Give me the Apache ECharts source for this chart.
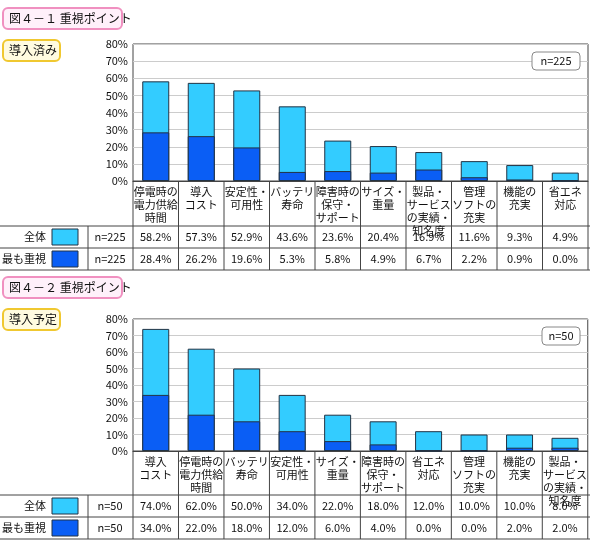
<![CDATA[<!DOCTYPE html><html><head><meta charset="utf-8"><script src="https://cdn.jsdelivr.net/npm/echarts@6/dist/echarts.min.js"></script>
<style>html,body{margin:0;padding:0;background:#fff}#c{width:590px;height:547px}</style></head><body><div id="c"></div><script>
const cats1=["停電時の\n電力供給\n時間","導入\nコスト","安定性・\n可用性","バッテリ\n寿命","障害時の\n保守・\nサポート","サイズ・\n重量","製品・\nサービス\nの実績・\n知名度","管理\nソフトの\n充実","機能の\n充実","省エネ\n対応"];
const all1=[58.2,57.3,52.9,43.6,23.6,20.4,16.9,11.6,9.3,4.9];
const top1=[28.4,26.2,19.6,5.3,5.8,4.9,6.7,2.2,0.9,0.0];
const cats2=["導入\nコスト","停電時の\n電力供給\n時間","バッテリ\n寿命","安定性・\n可用性","サイズ・\n重量","障害時の\n保守・\nサポート","省エネ\n対応","管理\nソフトの\n充実","機能の\n充実","製品・\nサービス\nの実績・\n知名度"];
const all2=[74.0,62.0,50.0,34.0,22.0,18.0,12.0,10.0,10.0,8.0];
const top2=[34.0,22.0,18.0,12.0,6.0,4.0,0.0,0.0,2.0,2.0];
const yTicks=[0,10,20,30,40,50,60,70,80];
const n1="n=225", n2="n=50";
const F='"Noto Sans CJK JP",sans-serif';
const LC='#33ccff', DC='#0a5ef5';
const chart=echarts.init(document.getElementById('c'));
const L=133,R=588,W=R-L;
const grids=[{left:L,width:W,top:44,height:137,show:true,borderColor:'#444',borderWidth:1},{left:L,width:W,top:319,height:132,show:true,borderColor:'#444',borderWidth:1}];
function xa(i,cats){return {type:'category',gridIndex:i,data:cats,axisTick:{show:false},axisLine:{lineStyle:{color:'#444'}},axisLabel:{interval:0,fontFamily:F,fontSize:11,color:'#111',lineHeight:13,margin:4,verticalAlign:'top'}};}
function ya(i){return {type:'value',gridIndex:i,min:0,max:80,interval:10,axisLine:{show:false},axisTick:{show:false},splitLine:{lineStyle:{color:'#ccc'}},axisLabel:{formatter:v=>yTicks.includes(v)?v+'%':'',fontFamily:F,fontSize:11,color:'#111',margin:5}};}
function bars(i,a,t){return [{type:'bar',xAxisIndex:i,yAxisIndex:i,data:a,barWidth:27,barGap:'-100%',itemStyle:{color:LC,borderColor:'#234',borderWidth:1},silent:true},{type:'bar',xAxisIndex:i,yAxisIndex:i,data:t,barWidth:27,itemStyle:{color:DC,borderColor:'#234',borderWidth:1},silent:true}];}
chart.setOption({animation:false,grid:grids,xAxis:[xa(0,cats1),xa(1,cats2)],yAxis:[ya(0),ya(1)],series:[...bars(0,all1,top1),...bars(1,all2,top2)]});
const g=[];
const ln=(x1,y1,x2,y2)=>g.push({type:'line',shape:{x1,y1,x2,y2},style:{stroke:'#444',lineWidth:1},silent:true});
const tx=(x,y,t,al)=>g.push({type:'text',x,y,style:{text:t,font:'11px '+F,fill:'#111',align:al||'center',verticalAlign:'middle'}});
function box(x,y,w,h,fill,stroke,t){g.push({type:'rect',shape:{x,y,width:w,height:h,r:5},style:{fill,stroke,lineWidth:2}});g.push({type:'text',x:x+6,y:y+h/2,style:{text:t,font:'12px '+F,fill:'#111',verticalAlign:'middle'}});}
function panel(i,cats,a,t,n,plotTop,plotBot,tabTop,titleY){
  box(3,titleY,119,21,'#fff0fa','#f090c0','図４－１ 重視ポイント'.replace('１',i?'２':'１'));
  box(3,titleY+32,i?57:57,21,'#fffbe0','#f0c830',i?'導入予定':'導入済み');
  g.push({type:'rect',shape:{x:R-(i?46:56),y:plotTop+8,width:(i?38:48),height:18,r:4},style:{fill:'#fff',stroke:'#888',lineWidth:1}});
  tx(R-(i?27:32),plotTop+17,n);
  const w=W/cats.length;
  const r1=tabTop,r2=tabTop+22,r3=tabTop+44;
  ln(0,r1,590,r1);ln(0,r2,590,r2);ln(0,r3,590,r3);
  ln(88,r1,88,r3);ln(L,plotBot,L,r3);
  for(let k=0;k<cats.length;k++){
    const cx=chart.convertToPixel({xAxisIndex:i},k);
    ln(cx+w/2,plotBot,cx+w/2,r3);
    tx(cx,r1+11,a[k].toFixed(1)+'%');tx(cx,r2+11,t[k].toFixed(1)+'%');
  }
  tx(110,r1+11,n);tx(110,r2+11,n);
  tx(46,r1+11,'全体','right');tx(46,r2+11,'最も重視','right');
  g.push({type:'rect',shape:{x:52,y:r1+3,width:26,height:16},style:{fill:LC,stroke:'#234',lineWidth:1}});
  g.push({type:'rect',shape:{x:52,y:r2+3,width:26,height:16},style:{fill:DC,stroke:'#234',lineWidth:1}});
}
panel(0,cats1,all1,top1,n1,44,181,226,8);
panel(1,cats2,all2,top2,n2,319,451,495,277);
chart.setOption({graphic:g});
</script></body></html>]]>
